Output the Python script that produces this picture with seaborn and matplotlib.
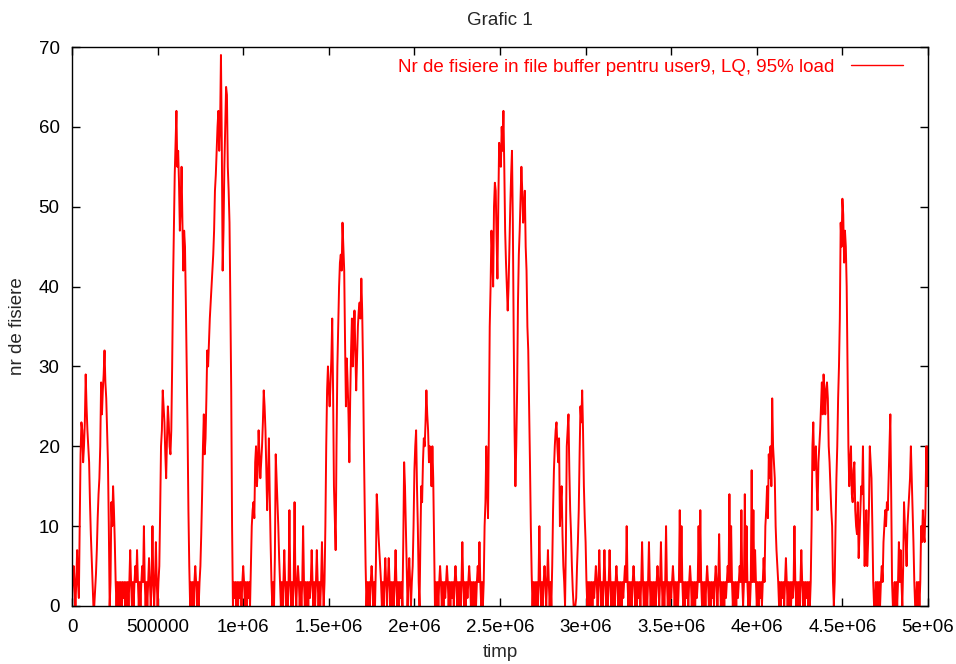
import numpy as np
import pandas as pd
import matplotlib
matplotlib.use("Agg")
import matplotlib.pyplot as plt
import seaborn as sns

# sampling step of the series (time units); values sit at k*t_step,
# values_mid sit half a step later
t_step = 10000

values = [
    0, 5, 0, 7, 1, 19, 22, 20, 29, 22, 18, 9, 3, 0, 4, 11, 16, 28, 27, 32,
    26, 18, 0, 13, 15, 8, 0, 0, 0, 0, 1, 0, 0, 0, 7, 0, 0, 5, 7, 0,
    0, 5, 10, 0, 0, 6, 0, 10, 0, 8, 0, 5, 20, 27, 23, 16, 25, 20, 22, 40,
    54, 62, 57, 47, 55, 42, 45, 30, 12, 0, 0, 0, 5, 0, 0, 5, 14, 24, 21, 32,
    33, 38, 42, 47, 54, 60, 57, 69, 42, 55, 65, 55, 48, 27, 0, 1, 0, 0, 1, 0,
    5, 0, 0, 1, 0, 10, 13, 18, 15, 22, 16, 20, 27, 22, 12, 21, 8, 0, 0, 19,
    13, 6, 0, 0, 7, 0, 0, 12, 0, 0, 13, 0, 5, 0, 0, 10, 0, 0, 0, 1,
    7, 0, 0, 7, 0, 0, 8, 0, 10, 27, 27, 28, 36, 15, 7, 30, 40, 44, 48, 42,
    25, 28, 18, 32, 30, 37, 27, 35, 38, 41, 30, 12, 0, 0, 0, 5, 0, 0, 14, 9,
    5, 0, 0, 6, 0, 6, 0, 0, 0, 7, 0, 0, 1, 0, 18, 10, 0, 6, 0, 5,
    17, 22, 10, 0, 15, 18, 20, 27, 22, 20, 15, 16, 0, 0, 0, 5, 0, 0, 1, 5,
    0, 0, 1, 0, 5, 0, 0, 0, 8, 0, 0, 1, 5, 0, 0, 0, 0, 5, 8, 0,
    0, 10, 20, 11, 35, 47, 40, 53, 46, 50, 56, 60, 62, 47, 40, 40, 50, 57, 34, 15,
    27, 44, 51, 52, 50, 45, 35, 25, 10, 0, 0, 0, 0, 10, 0, 0, 5, 0, 7, 0,
    0, 12, 20, 23, 18, 10, 15, 5, 0, 20, 24, 12, 5, 0, 0, 5, 12, 25, 27, 15,
    8, 0, 0, 0, 0, 1, 5, 0, 7, 0, 0, 7, 0, 0, 7, 0, 0, 0, 5, 0,
    0, 0, 1, 5, 10, 0, 0, 0, 5, 0, 0, 1, 0, 8, 0, 0, 0, 8, 0, 0,
    0, 0, 5, 0, 8, 0, 0, 10, 0, 0, 1, 5, 0, 0, 0, 12, 10, 0, 0, 1,
    0, 5, 0, 0, 0, 1, 10, 12, 0, 0, 0, 5, 0, 0, 1, 0, 5, 0, 9, 0,
    0, 0, 1, 5, 14, 10, 0, 0, 0, 1, 5, 12, 0, 14, 10, 0, 0, 17, 12, 7,
    0, 0, 1, 0, 6, 10, 15, 19, 20, 26, 18, 10, 5, 0, 0, 1, 0, 6, 0, 0,
    0, 1, 10, 0, 0, 0, 7, 0, 0, 1, 0, 0, 10, 23, 18, 15, 18, 22, 28, 29,
    24, 28, 20, 15, 10, 0, 10, 20, 30, 48, 51, 43, 45, 30, 15, 20, 13, 18, 10, 13,
    9, 15, 20, 5, 12, 8, 20, 16, 3, 0, 0, 0, 0, 5, 8, 12, 13, 16, 24, 3,
    0, 0, 0, 8, 7, 0, 13, 8, 10, 14, 20, 12, 3, 0, 0, 0, 10, 12, 8, 20,
    20,
]

values_mid = [
    3, 3, 3, 3, 10, 23, 18, 23, 25, 20, 13, 6, 0, 2, 7, 14, 20, 24, 29, 28,
    22, 10, 3, 10, 12, 3, 3, 3, 3, 3, 3, 3, 3, 3, 3, 3, 3, 3, 3, 3,
    3, 3, 3, 3, 3, 3, 3, 3, 3, 3, 3, 12, 22, 25, 19, 21, 23, 19, 30, 47,
    58, 55, 53, 50, 48, 47, 38, 22, 5, 3, 3, 3, 3, 3, 3, 9, 20, 19, 26, 30,
    36, 40, 44, 52, 57, 62, 60, 58, 47, 60, 64, 52, 38, 10, 3, 3, 3, 3, 3, 3,
    3, 3, 3, 3, 5, 12, 11, 20, 17, 19, 18, 23, 25, 17, 16, 14, 3, 3, 6, 16,
    10, 3, 3, 3, 3, 3, 3, 3, 3, 3, 3, 3, 3, 3, 3, 3, 3, 3, 3, 3,
    3, 3, 3, 3, 3, 3, 3, 3, 20, 30, 25, 31, 27, 11, 20, 35, 43, 42, 45, 33,
    31, 24, 26, 36, 33, 32, 31, 37, 36, 37, 20, 5, 3, 3, 3, 3, 3, 5, 12, 7,
    3, 3, 3, 3, 3, 3, 3, 3, 3, 3, 3, 3, 3, 8, 15, 5, 3, 3, 3, 10,
    20, 15, 3, 8, 13, 21, 23, 24, 18, 19, 20, 8, 3, 3, 3, 3, 3, 3, 3, 3,
    3, 3, 3, 3, 3, 3, 3, 3, 3, 3, 3, 3, 3, 3, 3, 3, 3, 3, 3, 3,
    3, 13, 15, 22, 40, 44, 50, 52, 41, 58, 55, 57, 55, 43, 37, 45, 54, 48, 22, 20,
    38, 47, 55, 48, 52, 42, 32, 18, 4, 3, 3, 3, 3, 3, 3, 3, 3, 3, 3, 3,
    5, 17, 22, 20, 21, 13, 9, 3, 8, 22, 17, 9, 2, 0, 1, 8, 19, 23, 22, 11,
    3, 3, 3, 3, 3, 3, 3, 3, 3, 3, 3, 3, 3, 3, 3, 3, 3, 3, 3, 3,
    3, 3, 3, 3, 3, 3, 3, 3, 3, 3, 3, 3, 3, 3, 3, 3, 3, 3, 3, 3,
    3, 3, 3, 3, 3, 3, 3, 3, 3, 3, 3, 3, 3, 3, 3, 3, 3, 3, 3, 3,
    3, 3, 3, 3, 3, 3, 3, 3, 3, 3, 3, 3, 3, 3, 3, 3, 3, 3, 3, 3,
    3, 3, 3, 3, 3, 3, 3, 3, 3, 3, 3, 3, 3, 3, 3, 3, 3, 3, 3, 3,
    3, 3, 3, 3, 3, 12, 11, 16, 15, 20, 16, 7, 3, 3, 3, 3, 3, 3, 3, 3,
    3, 3, 3, 3, 3, 3, 3, 3, 3, 3, 3, 3, 20, 17, 20, 12, 20, 25, 24, 27,
    27, 26, 18, 12, 3, 3, 16, 26, 36, 45, 49, 47, 40, 20, 18, 14, 17, 12, 9, 6,
    12, 14, 12, 9, 5, 12, 18, 10, 0, 3, 3, 3, 3, 3, 10, 10, 12, 20, 14, 0,
    3, 3, 3, 3, 3, 5, 10, 5, 12, 16, 16, 8, 0, 3, 3, 3, 8, 9, 12, 15,
]

x_ticks = [0, 500000, 1000000, 1500000, 2000000, 2500000, 3000000, 3500000, 4000000, 4500000, 5000000]
x_tick_labels = ["0", "500000", "1e+06", "1.5e+06", "2e+06", "2.5e+06", "3e+06", "3.5e+06", "4e+06", "4.5e+06", "5e+06"]
y_ticks = [0, 10, 20, 30, 40, 50, 60, 70]

title = "Grafic 1"
x_label = "timp"
y_label = "nr de fisiere"
series_label = "Nr de fisiere in file buffer pentru user9, LQ, 95% load"

df_main = pd.DataFrame({"timp": np.arange(len(values)) * t_step, "nr": values})
df_mid = pd.DataFrame({"timp": np.arange(len(values_mid)) * t_step + t_step // 2,
                       "nr": values_mid})
df = pd.concat([df_main, df_mid]).sort_values("timp").reset_index(drop=True)

sns.set_style("ticks")
plt.rcParams["font.family"] = ["Liberation Sans", "DejaVu Sans"]
plt.rcParams["path.simplify"] = False

FS = 13.5

fig = plt.figure(figsize=(9.56, 6.64), dpi=100)
ax = fig.add_axes([72 / 956, 1 - 606 / 664, 856 / 956, 559 / 664])

sns.lineplot(data=df, x="timp", y="nr", color="#ff0000", linewidth=1.4,
             estimator=None, sort=False, ax=ax, label=series_label)

ax.set_xlim(0, 5000000)
ax.set_ylim(0, 70)
ax.set_xticks(x_ticks)
ax.set_xticklabels(x_tick_labels)
ax.set_yticks(y_ticks)
ax.tick_params(direction="in", length=6, width=1, top=True, right=True,
               labelsize=FS, colors="black", pad=9)
for s in ax.spines.values():
    s.set_visible(True)
    s.set_linewidth(1.0)
    s.set_color("black")
    s.set_zorder(5)

ax.set_title(title, fontsize=FS, pad=16)
ax.set_xlabel(x_label, fontsize=FS, labelpad=6)
ax.set_ylabel(y_label, fontsize=FS, labelpad=9)

leg = ax.legend(loc="upper right", bbox_to_anchor=(0.980, 0.993), frameon=False,
                markerfirst=False, handlelength=2.8, handletextpad=0.9,
                fontsize=FS, borderaxespad=0.0, labelcolor="#ff0000")
for h in leg.get_lines():
    h.set_linewidth(1.0)

fig.savefig("out.png", dpi=100)
